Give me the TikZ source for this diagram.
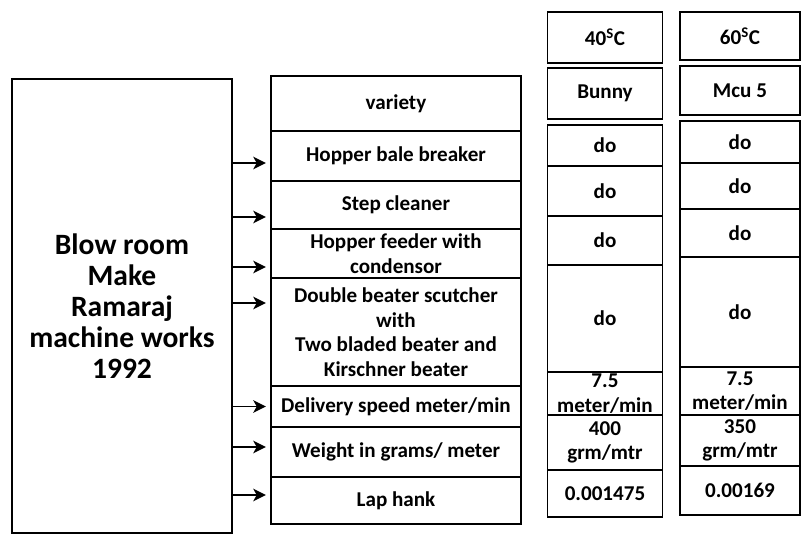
\documentclass[tikz,border=0pt]{standalone}
\usepackage{fontspec}
\setmainfont{Carlito}
\usetikzlibrary{arrows.meta, positioning, calc}
\newcommand{\pxu}{0.025cm}

\begin{document}
\begin{tikzpicture}[
  x=\pxu, y=-\pxu,
  box/.style={draw, line width=1.3pt, inner sep=1pt, align=center, font=\bfseries\fontsize{15}{17.5}\selectfont},
  cell/.style={box, minimum width=250*\pxu},
  colA/.style={box, minimum width=115*\pxu},
  colB/.style={box, minimum width=120*\pxu},
  ht/.style={minimum height=#1*\pxu},
  arr/.style={-{Stealth[length=9pt,width=9pt,inset=2.5pt]}, line width=1.3pt, shorten >=3pt},
]
\useasboundingbox (0,0) rectangle (809,537);

% machine
\node[box, minimum width=220*\pxu, ht=454, font=\bfseries\fontsize{21}{22}\selectfont] (blow) at (122,306)
  {Blow room\\Make\\Ramaraj\\machine works\\1992};

% process steps
\node[cell, ht=55] (variety) at (396,103.5) {variety};
\node[cell, ht=50] (bale) at (396,156) {Hopper bale breaker};
\node[cell, ht=48] (step) at (396,205) {Step cleaner};
\node[cell, ht=49] (feeder) at (396,253.5) {Hopper feeder with\\condensor};
\node[cell, ht=108] (beater) at (396,332) {Double beater scutcher\\with\\Two bladed beater and\\Kirschner beater};
\node[cell, ht=41] (speed) at (396,406.5) {Delivery speed meter/min};
\node[cell, ht=50] (weight) at (396,452) {Weight in grams/ meter};
\node[cell, ht=47] (lap) at (396,500.5) {Lap hank};

% 40 column
\node[colA, ht=51] (tA) at (605,37.5) {40\textsuperscript{S}C};
\node[colA, ht=51] (vA) at (605,93.5) {Bunny};
\node[colA, ht=41] (a1) at (605,145.5) {do};
\node[colA, ht=50] (a2) at (605,191) {do};
\node[colA, ht=49] (a3) at (605,240.5) {do};
\node[colA, ht=107] (a4) at (605,318.5) {do};
\node[colA, ht=43] (a5) at (605,393.5) {7.5\\meter/min};
\node[colA, ht=55] (a6) at (605,442.5) {400\\grm/mtr};
\node[colA, ht=47] (a7) at (605,493.5) {0.001475};

% 60 column
\node[colB, ht=48] (tB) at (740,36) {60\textsuperscript{S}C};
\node[colB, ht=49] (vB) at (740,90.5) {Mcu 5};
\node[colB, ht=42] (b1) at (740,142) {do};
\node[colB, ht=46] (b2) at (740,186) {do};
\node[colB, ht=48] (b3) at (740,233) {do};
\node[colB, ht=110] (b4) at (740,312) {do};
\node[colB, ht=48] (b5) at (740,391) {7.5\\meter/min};
\node[colB, ht=51] (b6) at (740,440.5) {350\\grm/mtr};
\node[colB, ht=49] (b7) at (740,490.5) {0.00169};

% arrows
\foreach \n/\dy in {bale/7, step/12, feeder/13.5, beater/-29, speed/0, weight/-5, lap/-5.5} {
  \coordinate (p) at ($(\n.west)+(0,\dy)$);
  \draw[arr] (blow.east |- p) -- (p);
}
\end{tikzpicture}
\end{document}
